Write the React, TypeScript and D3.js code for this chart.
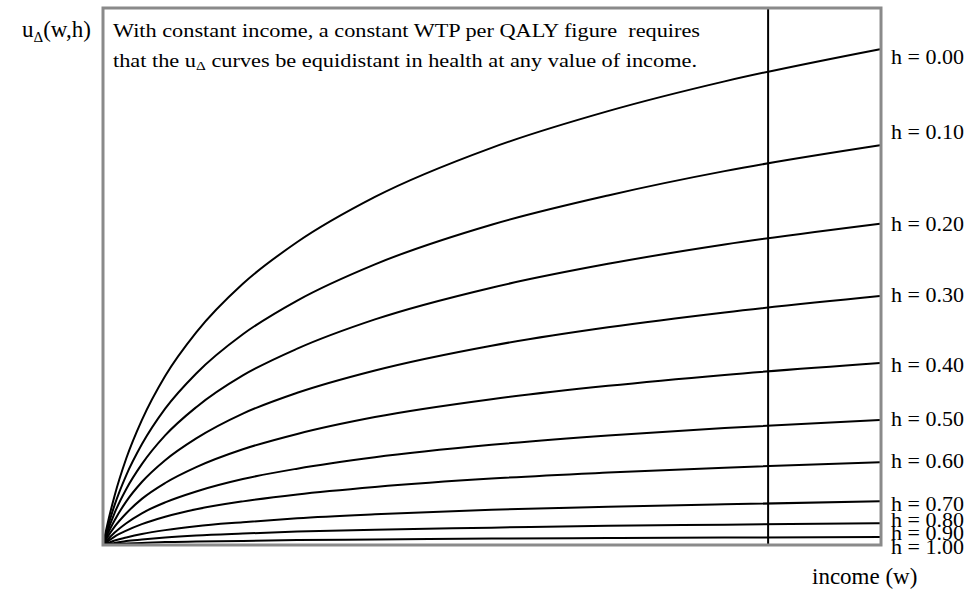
import { useEffect, useRef } from 'react';
import * as d3 from 'd3';

// income sample points (arbitrary units, 0..100)
const incomes = [0, 0.5, 1.5, 3, 5, 8, 12, 18, 25, 35, 50, 65, 80, 100];

// health levels and the u_delta value of each curve at the income samples
const healthLevels = ['0.00', '0.10', '0.20', '0.30', '0.40', '0.50', '0.60', '0.70', '0.80', '0.90', '1.00'];

const uH000 = [0, 0.037, 0.100, 0.175, 0.252, 0.341, 0.429, 0.527, 0.611, 0.702, 0.801, 0.875, 0.935, 1.000];
const uH010 = [0, 0.030, 0.081, 0.141, 0.203, 0.275, 0.346, 0.425, 0.493, 0.566, 0.646, 0.705, 0.754, 0.806];
const uH020 = [0, 0.024, 0.065, 0.113, 0.163, 0.221, 0.278, 0.342, 0.396, 0.455, 0.519, 0.567, 0.606, 0.648];
const uH030 = [0, 0.019, 0.050, 0.088, 0.127, 0.171, 0.215, 0.265, 0.307, 0.352, 0.402, 0.439, 0.469, 0.502];
const uH040 = [0, 0.014, 0.037, 0.064, 0.093, 0.125, 0.157, 0.193, 0.224, 0.258, 0.294, 0.321, 0.343, 0.367];
const uH050 = [0, 0.009, 0.025, 0.044, 0.064, 0.086, 0.108, 0.133, 0.154, 0.177, 0.202, 0.221, 0.236, 0.252];
const uH060 = [0, 0.006, 0.017, 0.029, 0.042, 0.057, 0.072, 0.088, 0.102, 0.117, 0.134, 0.146, 0.156, 0.167];
const uH070 = [0, 0.003, 0.009, 0.015, 0.022, 0.030, 0.038, 0.046, 0.054, 0.062, 0.071, 0.077, 0.082, 0.088];
const uH080 = [0, 0.002, 0.004, 0.008, 0.011, 0.015, 0.019, 0.023, 0.027, 0.031, 0.035, 0.039, 0.041, 0.044];
const uH090 = [0, 0.001, 0.002, 0.003, 0.004, 0.006, 0.007, 0.008, 0.010, 0.011, 0.013, 0.014, 0.015, 0.016];
const uH100 = [0, 0, 0, 0, 0, 0, 0, 0, 0, 0, 0, 0, 0, 0];

const curves = [uH000, uH010, uH020, uH030, uH040, uH050, uH060, uH070, uH080, uH090, uH100];

// income level marked with the vertical line
const markedIncome = 85.6;

const noteLine1 = 'With constant income, a constant WTP per QALY figure  requires';
const noteLine2 = ['that the u', 'Δ', ' curves be equidistant in health at any value of income.'];

// label baseline offsets from each curve end (px)
const labelDy = [15, -6, 7, 6, 9, 6, 6, 10, 4, 3, 9];

const W = 969;
const H = 594;
const FONT = '"Liberation Serif", "Times New Roman", serif';

export default function App() {
  const svgRef = useRef<SVGSVGElement>(null);

  useEffect(() => {
    document.body.style.margin = '0';
    if (!svgRef.current) return;
    const svg = d3.select(svgRef.current);
    svg.selectAll('*').remove();

    const plot = { left: 103, right: 881, top: 8, bottom: 545 };

    const x = d3.scaleLinear().domain([0, 100]).range([plot.left, 880]);
    const y = d3.scaleLinear().domain([0, 1.083]).range([plot.bottom, plot.top]);

    const line = d3.line<number>()
      .x((_, i) => x(incomes[i]))
      .y(d => y(d))
      .curve(d3.curveMonotoneX);

    svg.append('rect')
      .attr('width', W)
      .attr('height', H)
      .attr('fill', '#fff');

    // curves
    svg.append('g')
      .selectAll('path')
      .data(curves)
      .join('path')
      .attr('d', d => line(d))
      .attr('fill', 'none')
      .attr('stroke', '#000')
      .attr('stroke-width', 2);

    // vertical income marker
    svg.append('line')
      .attr('x1', x(markedIncome))
      .attr('x2', x(markedIncome))
      .attr('y1', plot.top)
      .attr('y2', plot.bottom)
      .attr('stroke', '#000')
      .attr('stroke-width', 2);

    // frame
    svg.append('rect')
      .attr('x', plot.left)
      .attr('y', plot.top)
      .attr('width', plot.right - plot.left)
      .attr('height', plot.bottom - plot.top)
      .attr('fill', 'none')
      .attr('stroke', '#8a8a8a')
      .attr('stroke-width', 3);

    // curve labels
    svg.append('g')
      .selectAll('text')
      .data(healthLevels)
      .join('text')
      .attr('x', 891)
      .attr('y', (_, i) => y(curves[i][curves[i].length - 1]) + labelDy[i])
      .attr('font-family', FONT)
      .attr('font-size', 22)
      .attr('fill', '#000')
      .text(d => `h = ${d}`);

    // annotation
    const note = svg.append('g')
      .attr('font-family', FONT)
      .attr('font-size', 19)
      .attr('fill', '#000');

    note.append('text')
      .attr('x', 113)
      .attr('y', 37)
      .attr('textLength', 587)
      .attr('lengthAdjust', 'spacingAndGlyphs')
      .style('white-space', 'pre')
      .text(noteLine1);

    const t2 = note.append('text')
      .attr('x', 113)
      .attr('y', 67)
      .attr('textLength', 584)
      .attr('lengthAdjust', 'spacingAndGlyphs')
      .style('white-space', 'pre');
    t2.append('tspan').text(noteLine2[0]);
    t2.append('tspan').attr('font-size', 13).attr('dy', 3).text(noteLine2[1]);
    t2.append('tspan').attr('dy', -3).text(noteLine2[2]);

    // y axis label
    const yl = svg.append('text')
      .attr('x', 22)
      .attr('y', 37)
      .attr('font-family', FONT)
      .attr('font-size', 23)
      .attr('fill', '#000');
    yl.append('tspan').text('u');
    yl.append('tspan').attr('font-size', 15).attr('dy', 5).text('Δ');
    yl.append('tspan').attr('dy', -5).text('(w,h)');

    // x axis label
    svg.append('text')
      .attr('x', 812)
      .attr('y', 584)
      .attr('font-family', FONT)
      .attr('font-size', 23)
      .attr('fill', '#000')
      .text('income (w)');
  }, []);

  return <svg ref={svgRef} width={W} height={H} style={{ display: 'block' }} />;
}
